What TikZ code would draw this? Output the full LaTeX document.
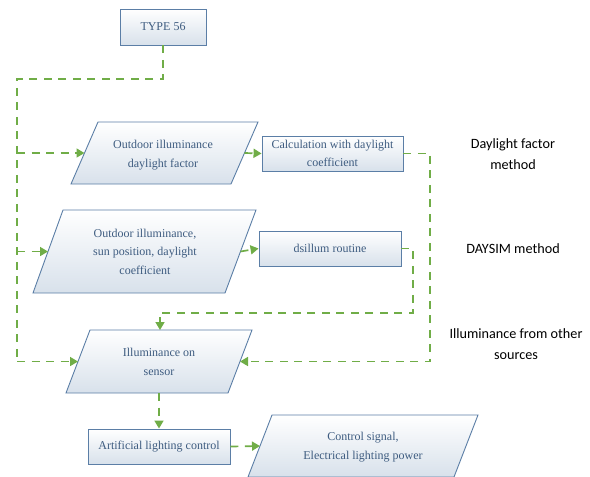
\documentclass[tikz,border=0pt]{standalone}
\usepackage{fontspec}
\setmainfont{Liberation Serif}
\newfontfamily\labfont{Carlito}
\usetikzlibrary{arrows.meta}
\definecolor{edgeblue}{HTML}{5B7EA6}
\definecolor{txtblue}{HTML}{3E5C80}
\definecolor{fillblue}{HTML}{D8E1EB}
\definecolor{flowgreen}{HTML}{70AD47}
\tikzset{
  boxnode/.style={draw=edgeblue, line width=0.9pt, top color=white, bottom color=fillblue, text=txtblue, align=center, inner sep=0pt, font=\fontsize{12}{18.5}\selectfont},
  parashape/.style={draw=edgeblue, line width=0.9pt, top color=white, bottom color=fillblue},
  paratext/.style={text=txtblue, align=center, inner sep=0pt, font=\fontsize{12}{18.5}\selectfont},
  flow/.style={draw=flowgreen, line width=1.7pt, dash pattern=on 8pt off 6.5pt},
  flowarrow/.style={flow, -{Triangle[length=8pt,width=9pt]}},
  sidelabel/.style={align=center, inner sep=0pt, font=\labfont\fontsize{14.2}{21}\selectfont}
}
\begin{document}
\begin{tikzpicture}[x=1pt,y=-1pt]
\useasboundingbox (0,0) rectangle (590,477);
% boxes
\node[boxnode, minimum width=86pt, minimum height=36pt] (type) at (163,27) {TYPE 56};
\node[boxnode, minimum width=141pt, minimum height=35pt] (calc) at (332.5,153.5) {Calculation with daylight\\coefficient};
\node[boxnode, minimum width=142pt, minimum height=35pt] (dsil) at (330,248.5) {dsillum routine};
\node[boxnode, minimum width=142pt, minimum height=35pt] (art) at (159,446.5) {Artificial lighting control};
% parallelograms
\path[parashape] (98,122) -- (258,122) -- (231,184) -- (71,184) -- cycle;
\path[parashape] (63,210) -- (256,210) -- (225,293) -- (33,293) -- cycle;
\path[parashape] (90,330) -- (252,330) -- (228,393) -- (66,393) -- cycle;
\path[parashape] (272,415) -- (478,415) -- (454,477) -- (248,477) -- cycle;
\node[paratext] (p1) at (163,155) {Outdoor illuminance\\daylight factor};
\node[paratext] (p2) at (145,251.5) {Outdoor illuminance,\\sun position, daylight\\coefficient};
\node[paratext] (p3) at (159,362) {Illuminance on\\sensor};
\node[paratext] (p4) at (363,447) {Control signal,\\Electrical lighting power};
% anchor coordinates on parallelogram edges
\coordinate (p1w) at (84.5,153);
\coordinate (p1e) at (244.5,153);
\coordinate (p2w) at (48,251.5);
\coordinate (p2e) at (240.5,251.5);
\coordinate (p3w) at (78,361.5);
\coordinate (p3e) at (240,361.5);
\coordinate (p3n) at (160,330);
\coordinate (p3s) at (159,393);
\coordinate (p4w) at (260,446);
% bends
\coordinate (b1) at (163,79);
\coordinate (b2) at (17,361.5);
\coordinate (j1) at (17,153);
\coordinate (j2) at (17,251.5);
\coordinate (c1) at (430,153.5);
\coordinate (c2) at (430,361.5);
\coordinate (d1) at (413,248.5);
\coordinate (d2) at (413,313);
\coordinate (d3) at (160,313);
% connectors
\draw[flow] (type.south) -- (b1) -| (b2);
\draw[flowarrow] (b2) -- (p3w);
\draw[flowarrow] (j1) -- (p1w);
\draw[flowarrow] (j2) -- (p2w);
\draw[flowarrow] (p1e) -- (calc.west);
\draw[flowarrow] (p2e) -- (dsil.west);
\draw[flowarrow] (calc.east) -- (c1) -- (c2) -- (p3e);
\draw[flowarrow] (dsil.east) -- (d1) -- (d2) -- (d3) -- (p3n);
\draw[flowarrow] (p3s) -- (art.north);
\draw[flowarrow] (art.east) -- (p4w);
% side labels
\node[sidelabel] (l1) at (513,154) {Daylight factor\\method};
\node[sidelabel] (l2) at (513,249) {DAYSIM method};
\node[sidelabel] (l3) at (516,344) {Illuminance from other\\sources};
\end{tikzpicture}
\end{document}
